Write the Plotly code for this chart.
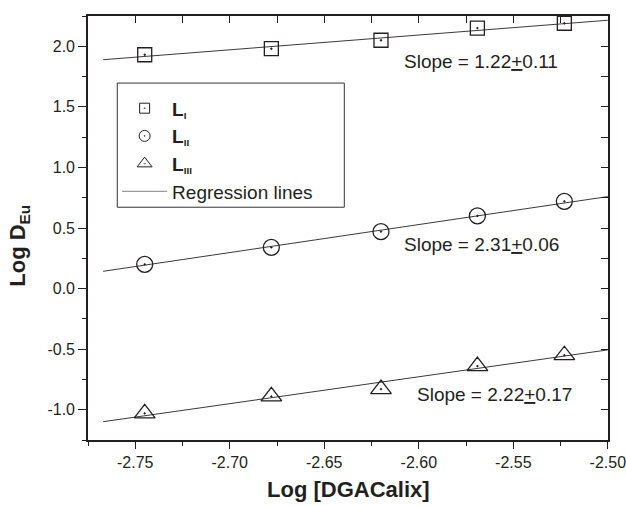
import plotly.graph_objects as go

# Log concentration of the extractant (x) and log distribution ratio of Eu (y)
log_calix = [-2.745, -2.678, -2.620, -2.569, -2.523]
log_d_L1 = [1.93, 1.98, 2.05, 2.15, 2.19]
log_d_L2 = [0.20, 0.34, 0.47, 0.60, 0.72]
log_d_L3 = [-1.03, -0.89, -0.83, -0.64, -0.55]

# Regression slopes as reported on the plot, with their errors
slopes = [1.22, 2.31, 2.22]
slope_err = [0.11, 0.06, 0.17]
fit_x_span = [-2.767, -2.50]

SUB = "<span style='font-size:14px'><sub>{}</sub></span>"
series_names = ["<b>L" + SUB.format(s) + "</b>" for s in ["I", "II", "III"]]
series_symbols = ["square-open-dot", "circle-open-dot", "triangle-up-open-dot"]
series_sizes = [14, 16, 18]
legend_sizes = [10, 11, 13]

x_ticks = [-2.75, -2.70, -2.65, -2.60, -2.55, -2.50]
x_minor = [-2.775, -2.725, -2.675, -2.625, -2.575, -2.525]
x_top = [-2.775, -2.75, -2.725, -2.70, -2.675, -2.65, -2.625, -2.60, -2.575, -2.55, -2.525]
y_ticks = [-1.0, -0.5, 0.0, 0.5, 1.0, 1.5, 2.0]
y_minor = [-1.25, -0.75, -0.25, 0.25, 0.75, 1.25, 1.75, 2.25]
y_right = [-1.25, -1.0, -0.75, -0.5, -0.25, 0.0, 0.25, 0.5, 0.75, 1.0, 1.25, 1.5, 1.75, 2.0]

X_RANGE = [-2.775, -2.4999]
Y_RANGE = [-1.25, 2.25]

INK = "#231f20"
FONT = "Arial, Liberation Sans, Helvetica, sans-serif"

fig = go.Figure()

all_y = [log_d_L1, log_d_L2, log_d_L3]

# regression lines through the centroid of each data set
mx = sum(log_calix) / len(log_calix)
for ys, m in zip(all_y, slopes):
    my = sum(ys) / len(ys)
    ly = [my + m * (xv - mx) for xv in fit_x_span]
    fig.add_trace(go.Scatter(
        x=fit_x_span, y=ly, mode="lines",
        line=dict(color="#3a3a3a", width=1),
        showlegend=False, hoverinfo="skip",
    ))

for i, ys in enumerate(all_y):
    fig.add_trace(go.Scatter(
        x=log_calix, y=ys, mode="markers", name=series_names[i],
        showlegend=False,
        marker=dict(symbol=series_symbols[i], size=series_sizes[i],
                    color=INK, line=dict(color=INK, width=1.3)),
    ))

# legend entries (smaller symbols than on the plot)
for i in range(3):
    fig.add_trace(go.Scatter(
        x=[None], y=[None], mode="markers", name=series_names[i],
        legendrank=i + 1,
        marker=dict(symbol=series_symbols[i], size=legend_sizes[i],
                    color=INK, line=dict(color=INK, width=1)),
    ))
fig.add_trace(go.Scatter(
    x=[None], y=[None], mode="lines", name="Regression lines",
    legendrank=4, line=dict(color="#9a9a9a", width=1.2),
))

# mirrored frame: top and right axes with inward ticks
fig.add_trace(go.Scatter(x=[None], y=[None], xaxis="x2", yaxis="y2",
                         showlegend=False, hoverinfo="skip"))

axis_common = dict(showgrid=False, zeroline=False, showline=True,
                   automargin=False,
                   linecolor=INK, linewidth=1.6, tickcolor=INK, tickwidth=1.4)

fig.update_layout(
    width=626, height=506,
    margin=dict(l=88, r=18, t=16, b=66),
    paper_bgcolor="white", plot_bgcolor="white",
    font=dict(family=FONT, color=INK, size=16),
    showlegend=True,
    xaxis=dict(
        range=X_RANGE, tickmode="array", tickvals=x_ticks,
        ticktext=[f"{v:.2f}" for v in x_ticks],
        ticks="outside", ticklen=7, ticklabeloverflow="allow",
        minor=dict(tickmode="array", tickvals=x_minor, ticks="outside",
                   ticklen=4, tickcolor=INK, tickwidth=1.4),
        tickfont=dict(size=16, color=INK),
        **axis_common,
    ),
    yaxis=dict(
        range=Y_RANGE, tickmode="array", tickvals=y_ticks,
        ticktext=[f"{v:.1f}" for v in y_ticks],
        ticks="outside", ticklen=8,
        minor=dict(tickmode="array", tickvals=y_minor, ticks="outside",
                   ticklen=4, tickcolor=INK, tickwidth=1.4),
        tickfont=dict(size=16, color=INK),
        **axis_common,
    ),
    xaxis2=dict(
        range=X_RANGE, overlaying="x", side="top", anchor="y",
        tickmode="array", tickvals=x_top, ticks="inside", ticklen=7,
        showticklabels=False, **axis_common,
    ),
    yaxis2=dict(
        range=Y_RANGE, overlaying="y", side="right", anchor="x",
        tickmode="array", tickvals=y_right, ticks="inside", ticklen=7,
        showticklabels=False, **axis_common,
    ),
    legend=dict(
        x=0.056, y=0.827, xanchor="left", yanchor="top",
        bgcolor="rgba(0,0,0,0)", borderwidth=0,
        font=dict(size=19, color=INK, family=FONT),
        itemwidth=45, itemsizing="trace", tracegroupgap=0,
    ),
    shapes=[dict(
        type="rect", xref="paper", yref="paper",
        x0=0.0563, x1=0.4929, y0=0.549, y1=0.8418,
        line=dict(color="#333333", width=1), fillcolor="rgba(0,0,0,0)",
    )],
)

# slope labels next to each fitted line
label_pos = [(-2.6091, 1.872), (-2.6091, 0.366), (-2.6021, -0.874)]
for (lx, ly), m, e in zip(label_pos, slopes, slope_err):
    fig.add_annotation(
        x=lx, y=ly, xref="x", yref="y", xanchor="left", yanchor="middle",
        text=f"Slope = {m:.2f}<u>+</u>{e:.2f}", showarrow=False,
        font=dict(size=19, color=INK, family=FONT),
    )

# axis titles
fig.add_annotation(
    x=0.501, y=-0.117, xref="paper", yref="paper",
    xanchor="center", yanchor="middle", showarrow=False,
    text="<b>Log [DGACalix]</b>", font=dict(size=22, color=INK, family=FONT),
)
fig.add_annotation(
    x=-0.132, y=0.459, xref="paper", yref="paper",
    xanchor="center", yanchor="middle", showarrow=False, textangle=-90,
    text="<b>Log D<sub>Eu</sub></b>",
    font=dict(size=22, color=INK, family=FONT),
)

fig.write_html("out.html")
